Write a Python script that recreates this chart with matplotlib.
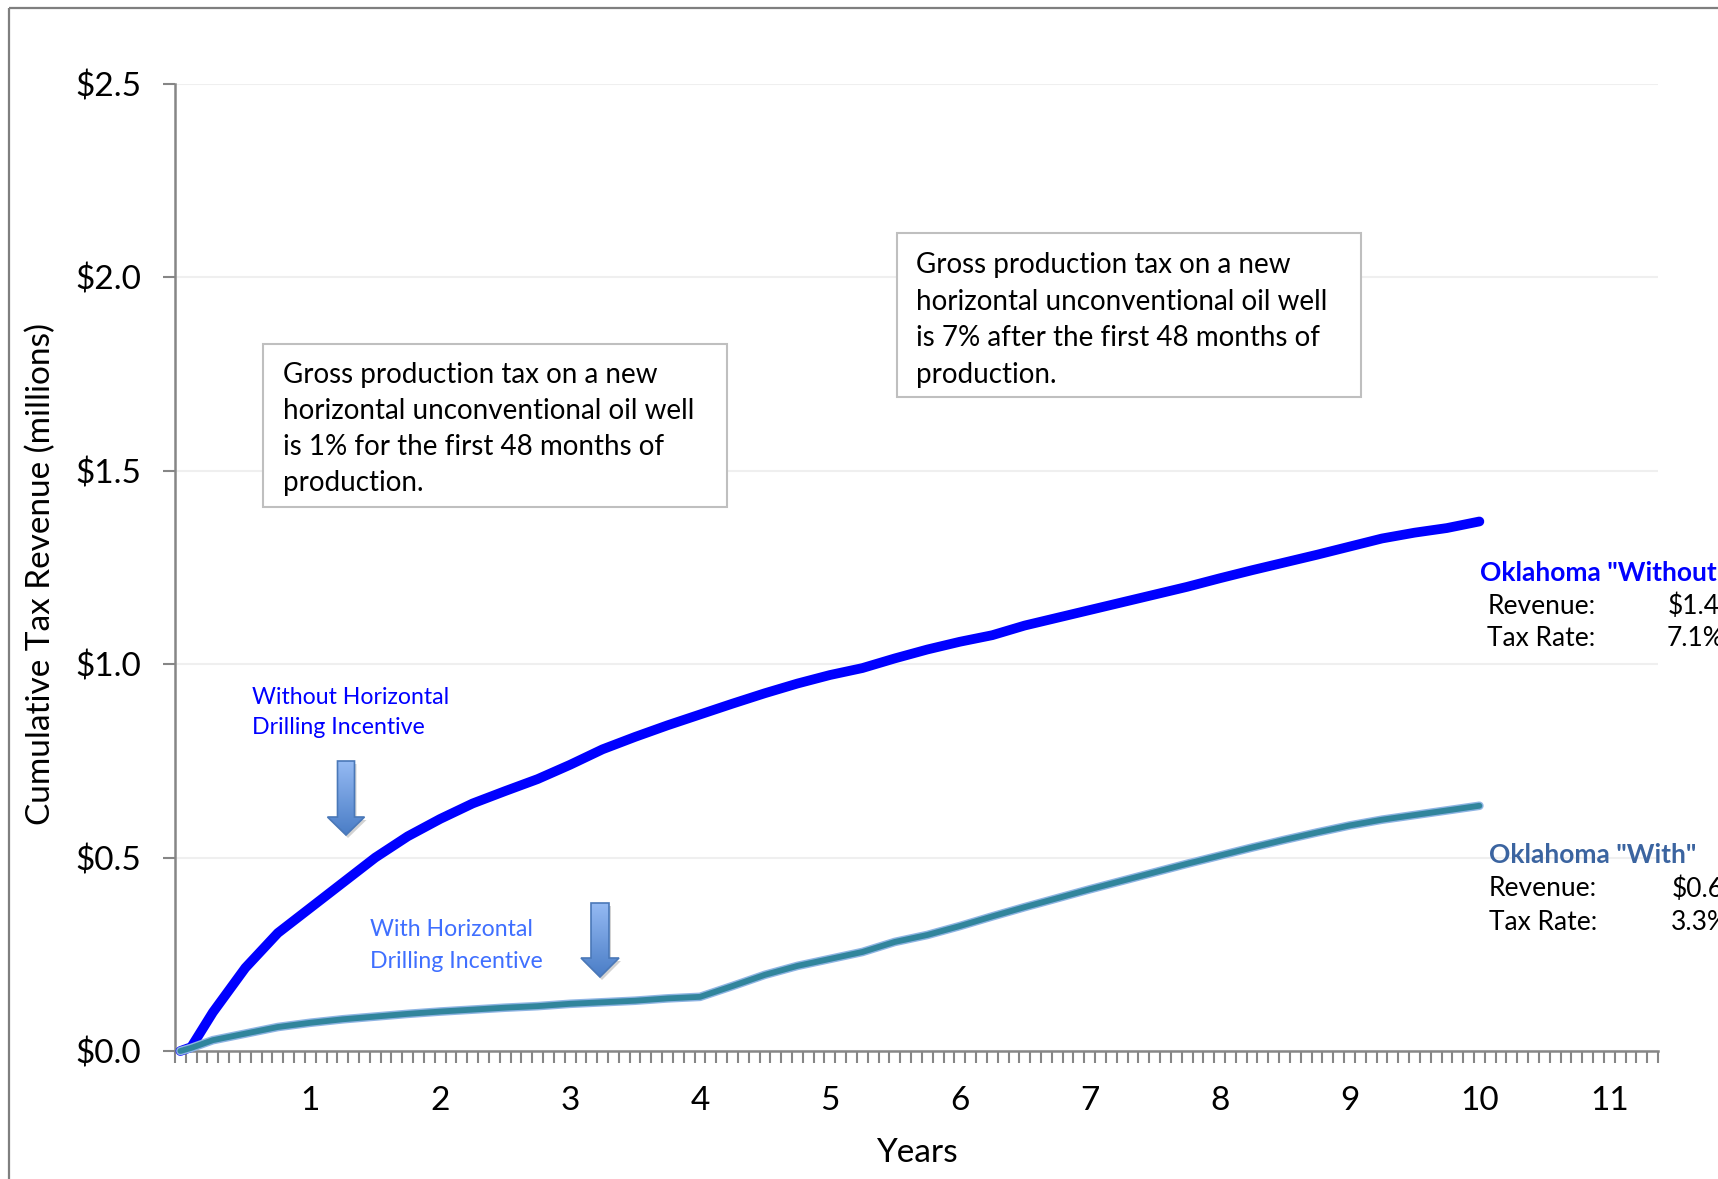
import numpy as np
import matplotlib
matplotlib.use('Agg')
import matplotlib.pyplot as plt
from matplotlib.patches import Rectangle, Polygon
import matplotlib.patheffects as pe

plt.rcParams['font.family'] = ['Lato', 'DejaVu Sans']

# months since first production
months = [0, 1, 3, 6, 9, 12, 15, 18, 21, 24, 27, 30, 33, 36, 39, 42, 45, 48,
          51, 54, 57, 60, 63, 66, 69, 72, 75, 78, 81, 84, 87, 90, 93, 96,
          99, 102, 105, 108, 111, 114, 117, 120]
# cumulative tax revenue, $ millions
without_rev = [0.0, 0.01, 0.10, 0.215, 0.305, 0.37, 0.435, 0.50, 0.555, 0.60,
               0.64, 0.672, 0.703, 0.74, 0.78, 0.812, 0.842, 0.87, 0.898, 0.925,
               0.95, 0.972, 0.99, 1.015, 1.038, 1.058, 1.075, 1.10, 1.12, 1.14,
               1.16, 1.18, 1.20, 1.222, 1.243, 1.263, 1.283, 1.304, 1.325, 1.34,
               1.352, 1.369]
with_rev = [0.0, 0.008, 0.028, 0.045, 0.062, 0.073, 0.082, 0.089, 0.096, 0.102,
            0.107, 0.112, 0.116, 0.122, 0.126, 0.130, 0.136, 0.14, 0.168, 0.197,
            0.220, 0.238, 0.256, 0.282, 0.300, 0.323, 0.348, 0.372, 0.395, 0.418,
            0.44, 0.462, 0.484, 0.505, 0.526, 0.546, 0.565, 0.583, 0.598, 0.61,
            0.622, 0.634]

year_ticks = [12, 24, 36, 48, 60, 72, 84, 96, 108, 120, 132]
year_labels = ['1', '2', '3', '4', '5', '6', '7', '8', '9', '10', '11']
y_ticks = [0.0, 0.5, 1.0, 1.5, 2.0, 2.5]
y_labels = ['$0.0', '$0.5', '$1.0', '$1.5', '$2.0', '$2.5']

W, H = 1718, 1179
fig = plt.figure(figsize=(W / 100, H / 100), dpi=100)
ax = fig.add_axes([175 / W, 1 - 1051 / H, (1658 - 175) / W, (1051 - 84) / H])

grey = '#868686'
ax.plot(months, without_rev, color='#0000FF', lw=7.0, solid_capstyle='round',
        solid_joinstyle='round', clip_on=False, zorder=4)
ax.plot(months, with_rev, color='#31859C', lw=4.2, solid_capstyle='round',
        solid_joinstyle='round', clip_on=False, zorder=5,
        path_effects=[pe.Stroke(linewidth=6.2, foreground='#8EB4E3'), pe.Normal()])

ax.set_xlim(-0.5, 136.5)
ax.set_ylim(0, 2.5)
ax.set_xticks(year_ticks)
ax.set_xticklabels(year_labels)
ax.set_xticks(np.arange(-0.5, 137, 1), minor=True)
ax.set_yticks(y_ticks)
ax.set_yticklabels(y_labels)
ax.tick_params(axis='x', which='major', length=0, pad=25, labelsize=24)
ax.tick_params(axis='x', which='minor', length=8.5, width=1.5, color=grey, direction='out')
ax.tick_params(axis='y', which='major', length=8.5, width=1.5, color=grey, pad=16, labelsize=24)
ax.grid(axis='y', color='#EFEFEF', lw=1.5)
ax.set_axisbelow(True)
for s in ['top', 'right']:
    ax.spines[s].set_visible(False)
for s in ['left', 'bottom']:
    ax.spines[s].set_color(grey)
    ax.spines[s].set_linewidth(1.8)

ax.set_xlabel('Years', fontsize=24)
ax.xaxis.set_label_coords(0.5003, -0.09)
ax.set_ylabel('Cumulative Tax Revenue (millions)', fontsize=24)
ax.yaxis.set_label_coords(-0.08, 0.493)

# overlay in pixel coordinates for the notes
ov = fig.add_axes([0, 0, 1, 1], zorder=10)
ov.set_xlim(0, W)
ov.set_ylim(H, 0)
ov.axis('off')
ov.patch.set_alpha(0)

# outer frame
ov.add_patch(Rectangle((9, 8), W + 50, H + 50, fill=False, ec='#7F7F7F', lw=1.6))

# text boxes
box1 = ['Gross production tax on a new', 'horizontal unconventional oil well',
        'is 1% for the first 48 months of', 'production.']
box2 = ['Gross production tax on a new', 'horizontal unconventional oil well',
        'is 7% after the first 48 months of', 'production.']
ov.add_patch(Rectangle((263, 344), 464, 163, fill=True, fc='white', ec='#BFBFBF', lw=1.5))
for i, t in enumerate(box1):
    ov.text(283, 375 + i * 36, t, fontsize=20, va='center', ha='left')
ov.add_patch(Rectangle((897, 233), 464, 164, fill=True, fc='white', ec='#BFBFBF', lw=1.5))
for i, t in enumerate(box2):
    ov.text(916, 265 + i * 36.5, t, fontsize=20, va='center', ha='left')

# series notes
for i, t in enumerate(['Without Horizontal', 'Drilling Incentive']):
    ov.text(252, 697 + i * 30, t, fontsize=16.7, color='#0000FF', va='center')
for i, t in enumerate(['With Horizontal', 'Drilling Incentive']):
    ov.text(370, 930 + i * 31, t, fontsize=16.7, color='#3F6FFF', va='center')


def block_arrow(cx, top, head, tip, half_shaft, half_head):
    pts = [(cx - half_shaft, top), (cx + half_shaft, top), (cx + half_shaft, head),
           (cx + half_head, head), (cx, tip), (cx - half_head, head),
           (cx - half_shaft, head)]
    shadow = Polygon([(x + 2, y + 3) for x, y in pts], closed=True, fc='#808080',
                     ec='none', alpha=0.35)
    ov.add_patch(shadow)
    poly = Polygon(pts, closed=True, fc='none', ec='#4A78B8', lw=1.2, zorder=3)
    ov.add_patch(poly)
    grad = np.linspace(0, 1, 256).reshape(-1, 1)
    cmap = matplotlib.colors.LinearSegmentedColormap.from_list('g', ['#95BAF3', '#4A7DC6'])
    im = ov.imshow(grad, cmap=cmap, aspect='auto', origin='upper',
                   extent=(cx - half_head, cx + half_head, tip, top), zorder=2)
    im.set_clip_path(poly)


block_arrow(346, 761, 817, 835, 8.5, 18.5)
block_arrow(600, 903, 958, 977, 9, 19)
ov.set_xlim(0, W)
ov.set_ylim(H, 0)

# end-of-line labels
fs = 19
ov.text(1480, 573, 'Oklahoma "Without"', fontsize=fs, fontweight='bold', color='#0000FF', va='center')
ov.text(1488, 606, 'Revenue:', fontsize=fs, va='center')
ov.text(1668, 606, '$1.4', fontsize=fs, va='center')
ov.text(1487, 639, 'Tax Rate:', fontsize=fs, va='center')
ov.text(1667, 639, '7.1%', fontsize=fs, va='center')

ov.text(1489, 855, 'Oklahoma "With"', fontsize=fs, fontweight='bold', color='#3B64A0', va='center')
ov.text(1489, 889, 'Revenue:', fontsize=fs, va='center')
ov.text(1672, 889, '$0.6', fontsize=fs, va='center')
ov.text(1489, 922, 'Tax Rate:', fontsize=fs, va='center')
ov.text(1671, 922, '3.3%', fontsize=fs, va='center')

fig.savefig('out.png', dpi=100)
